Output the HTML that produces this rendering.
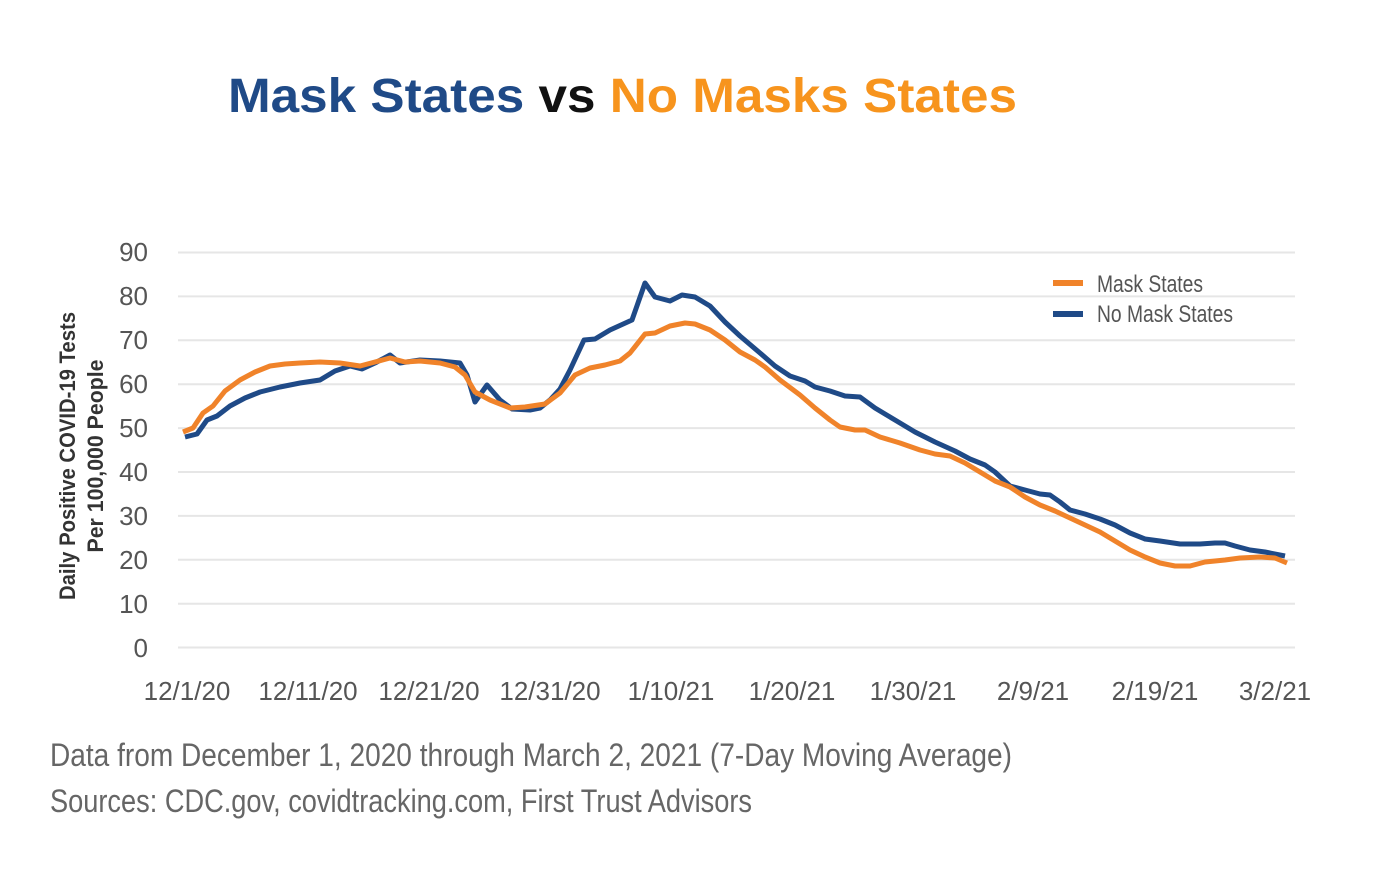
<!DOCTYPE html>
<html><head><meta charset="utf-8"><style>
html,body{margin:0;padding:0;background:#fff;}
svg{display:block;}
</style></head><body>
<svg width="1386" height="890" viewBox="0 0 1386 890" xmlns="http://www.w3.org/2000/svg" font-family="Liberation Sans Narrow, Liberation Sans, sans-serif">
<rect width="1386" height="890" fill="#fff"/>
<text x="228" y="112" font-family="Liberation Sans, sans-serif" font-weight="bold" font-size="48" textLength="789" lengthAdjust="spacingAndGlyphs"><tspan fill="#1f4a87">Mask States</tspan><tspan fill="#111"> vs </tspan><tspan fill="#f7941d">No Masks States</tspan></text>
<g stroke="#e6e6e6" stroke-width="2">
<line x1="178" x2="1295" y1="252.5" y2="252.5"/><line x1="178" x2="1295" y1="296.4" y2="296.4"/><line x1="178" x2="1295" y1="340.3" y2="340.3"/><line x1="178" x2="1295" y1="384.2" y2="384.2"/><line x1="178" x2="1295" y1="428.1" y2="428.1"/><line x1="178" x2="1295" y1="472" y2="472"/><line x1="178" x2="1295" y1="515.9" y2="515.9"/><line x1="178" x2="1295" y1="559.8" y2="559.8"/><line x1="178" x2="1295" y1="603.7" y2="603.7"/><line x1="178" x2="1295" y1="647.5" y2="647.5"/>
</g>
<g fill="#555" font-size="26" text-anchor="end">
<text x="148" y="261">90</text><text x="148" y="305">80</text><text x="148" y="349">70</text><text x="148" y="393">60</text><text x="148" y="437">50</text><text x="148" y="481">40</text><text x="148" y="525">30</text><text x="148" y="569">20</text><text x="148" y="613">10</text><text x="148" y="657">0</text>
</g>
<g fill="#555" font-size="26" text-anchor="middle">
<text x="187" y="700">12/1/20</text><text x="308" y="700">12/11/20</text><text x="429" y="700">12/21/20</text><text x="550" y="700">12/31/20</text><text x="671" y="700">1/10/21</text><text x="792" y="700">1/20/21</text><text x="913" y="700">1/30/21</text><text x="1033" y="700">2/9/21</text><text x="1155" y="700">2/19/21</text><text x="1275" y="700">3/2/21</text>
</g>
<g transform="translate(75,456) rotate(-90)" fill="#333" font-weight="bold" font-size="22" text-anchor="middle">
<text x="0" y="0" textLength="288" lengthAdjust="spacingAndGlyphs">Daily Positive COVID-19 Tests</text>
<text x="0" y="28" textLength="193" lengthAdjust="spacingAndGlyphs">Per 100,000 People</text>
</g>
<polyline fill="none" stroke="#1f4a87" stroke-width="5" stroke-linejoin="round" points="185,437 197,434 207,420 217,416 230,406 245,398 260,392 280,387 300,383 320,380 335,371 350,366 362,369 375,363 390,355 400,363 420,360 440,361 460,363 467,375 475,402 487,385 500,400 512,409 530,410 540,408 550,400 560,389 570,370 584,340 595,339 610,330 632,320 645,283 655,297 670,301 682,295 695,297 710,306 725,322 740,336 760,353 775,366 790,376 805,381 815,387 830,391 845,396 860,397 875,408 895,420 915,432 935,442 955,451 970,459 985,465 995,472 1010,486 1025,490 1040,494 1050,495 1060,502 1070,510 1085,514 1100,519 1115,525 1130,533 1145,539 1160,541 1180,544 1200,544 1215,543 1225,543 1235,546 1250,550 1265,552 1285,556"/>
<polyline fill="none" stroke="#f0832a" stroke-width="5" stroke-linejoin="round" points="183,432 193,428 203,413 213,406 225,391 240,380 255,372 270,366 285,364 300,363 320,362 340,363 360,366 375,362 390,358 405,362 420,361 440,363 455,367 465,375 475,392 490,400 510,408 525,407 545,404 560,393 575,375 590,368 605,365 620,361 630,353 645,334 655,333 670,326 685,323 695,324 710,330 725,340 740,352 755,360 765,367 780,380 800,395 815,408 830,420 840,427 855,430 865,430 880,437 900,443 920,450 935,454 950,456 965,463 980,472 995,481 1010,487 1025,497 1040,505 1055,511 1070,518 1085,525 1100,532 1115,541 1130,550 1145,557 1160,563 1175,566 1190,566 1205,562 1225,560 1240,558 1260,557 1275,558 1287,563"/>
<line x1="1053" x2="1083" y1="283" y2="283" stroke="#f0832a" stroke-width="6"/>
<line x1="1053" x2="1083" y1="314" y2="314" stroke="#1f4a87" stroke-width="6"/>
<g fill="#555" font-size="24">
<text x="1097" y="292" textLength="106" lengthAdjust="spacingAndGlyphs">Mask States</text>
<text x="1097" y="322" textLength="136" lengthAdjust="spacingAndGlyphs">No Mask States</text>
</g>
<g fill="#666" font-size="32">
<text x="50" y="766" textLength="962" lengthAdjust="spacingAndGlyphs">Data from December 1, 2020 through March 2, 2021 (7-Day Moving Average)</text>
<text x="50" y="812" textLength="702" lengthAdjust="spacingAndGlyphs">Sources: CDC.gov, covidtracking.com, First Trust Advisors</text>
</g>
</svg>
</body></html>
